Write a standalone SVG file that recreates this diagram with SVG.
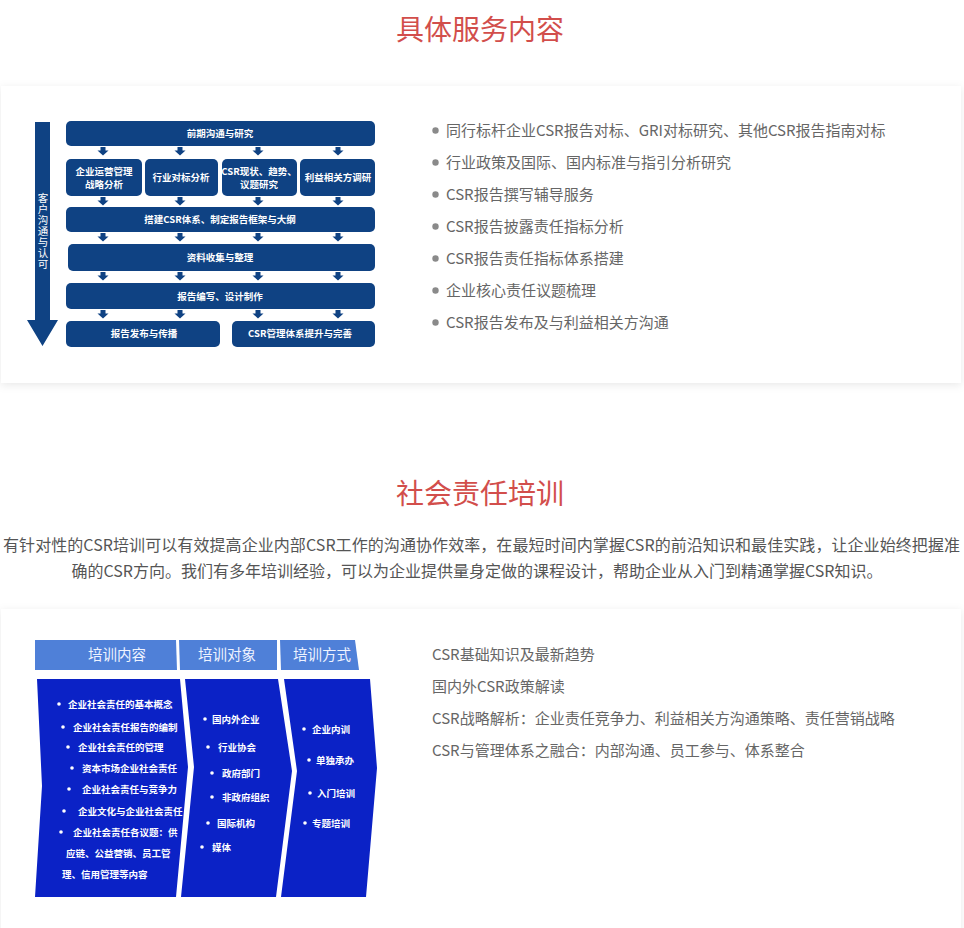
<svg xmlns="http://www.w3.org/2000/svg" width="964" height="928" viewBox="0 0 964 928">
<style>
.title{font-family:"Noto Sans CJK SC","Liberation Sans",sans-serif;font-size:28px;fill:#d24e4b;text-anchor:middle}
.para{font-family:"Noto Sans CJK SC","Liberation Sans",sans-serif;font-size:16px;fill:#555}
.li{font-family:"Noto Sans CJK SC","Liberation Sans",sans-serif;font-size:15px;fill:#666}
.dot{fill:#8a8a8a}
.nb{fill:#0f4283}
.nt{font-family:"Noto Sans CJK SC","Liberation Sans",sans-serif;font-size:9.5px;font-weight:bold;fill:#fff;text-anchor:middle}
.vt{font-family:"Noto Sans CJK SC","Liberation Sans",sans-serif;font-size:10.5px;fill:#fff;writing-mode:vertical-rl;letter-spacing:0.5px}
.hd{fill:#4f80d8}
.ht{font-family:"Noto Sans CJK SC","Liberation Sans",sans-serif;font-size:14.5px;fill:#eef3ff;text-anchor:middle}
.bd{fill:#0b22c6}
.bt{font-family:"Noto Sans CJK SC","Liberation Sans",sans-serif;font-size:9.5px;font-weight:bold;fill:#fff}
.wd{fill:#fff}
</style>
<defs>
<filter id="sh" x="-3%" y="-10%" width="106%" height="120%">
<feDropShadow dx="0" dy="2" stdDeviation="4" flood-color="#000" flood-opacity="0.09"/>
</filter>
<path id="sa" class="nb" d="M-2.5,0 h5 v3.5 h3 l-5.5,5 l-5.5,-5 h3 z"/>
</defs>
<rect width="964" height="928" fill="#fff"/>

<!-- Section 1 -->
<text class="title" x="480" y="40">具体服务内容</text>
<rect id="card1" x="1" y="86" width="960" height="297" fill="#fff" filter="url(#sh)"/>

<g id="connectors">
<polygon class="nb" points="35,122 50,122 50,320 58,320 42.5,346 27,320 35,320"/>
<use href="#sa" x="103" y="147"/><use href="#sa" x="180" y="147"/><use href="#sa" x="258" y="147"/><use href="#sa" x="338" y="147"/>
<use href="#sa" x="103" y="197"/><use href="#sa" x="180" y="197"/><use href="#sa" x="258" y="197"/><use href="#sa" x="338" y="197"/>
<use href="#sa" x="103" y="233"/><use href="#sa" x="180" y="233"/><use href="#sa" x="258" y="233"/><use href="#sa" x="338" y="233"/>
<use href="#sa" x="103" y="272"/><use href="#sa" x="180" y="272"/><use href="#sa" x="258" y="272"/><use href="#sa" x="338" y="272"/>
<use href="#sa" x="103" y="310"/><use href="#sa" x="180" y="310"/><use href="#sa" x="258" y="310"/><use href="#sa" x="338" y="310"/>
</g>
<g id="side-label">
<text class="vt" x="43" y="193">客户沟通与认可</text>
</g>
<g id="n-qianqi"><rect class="nb" x="66" y="121" width="309" height="25" rx="5"/><text class="nt" x="220" y="137">前期沟通与研究</text></g>
<g id="n-qiye"><rect class="nb" x="66" y="159" width="76" height="37" rx="5"/><text class="nt" x="104" y="175">企业运营管理</text><text class="nt" x="104" y="188">战略分析</text></g>
<g id="n-hangye"><rect class="nb" x="145" y="159" width="73" height="37" rx="5"/><text class="nt" x="181" y="181">行业对标分析</text></g>
<g id="n-xianzhuang"><rect class="nb" x="222" y="159" width="75" height="37" rx="5"/><text class="nt" x="259" y="175">CSR现状、趋势、</text><text class="nt" x="259" y="188">议题研究</text></g>
<g id="n-liyi"><rect class="nb" x="300" y="159" width="75" height="37" rx="5"/><text class="nt" x="338" y="181">利益相关方调研</text></g>
<g id="n-dajian"><rect class="nb" x="66" y="207" width="309" height="25" rx="5"/><text class="nt" x="220" y="223">搭建CSR体系、制定报告框架与大纲</text></g>
<g id="n-ziliao"><rect class="nb" x="68" y="244" width="307" height="27" rx="5"/><text class="nt" x="220" y="261">资料收集与整理</text></g>
<g id="n-bianxie"><rect class="nb" x="66" y="283" width="309" height="26" rx="5"/><text class="nt" x="220" y="300">报告编写、设计制作</text></g>
<g id="n-fabu"><rect class="nb" x="66" y="321" width="154" height="26" rx="5"/><text class="nt" x="144" y="337">报告发布与传播</text></g>
<g id="n-tisheng"><rect class="nb" x="232" y="321" width="143" height="26" rx="5"/><text class="nt" x="300" y="337">CSR管理体系提升与完善</text></g>

<g id="list1">
<circle class="dot" cx="435.5" cy="130.5" r="3.2"/><text class="li" x="446" y="136">同行标杆企业CSR报告对标、GRI对标研究、其他CSR报告指南对标</text>
<circle class="dot" cx="435.5" cy="162.5" r="3.2"/><text class="li" x="446" y="168">行业政策及国际、国内标准与指引分析研究</text>
<circle class="dot" cx="435.5" cy="194.5" r="3.2"/><text class="li" x="446" y="200">CSR报告撰写辅导服务</text>
<circle class="dot" cx="435.5" cy="226.5" r="3.2"/><text class="li" x="446" y="232">CSR报告披露责任指标分析</text>
<circle class="dot" cx="435.5" cy="258.5" r="3.2"/><text class="li" x="446" y="264">CSR报告责任指标体系搭建</text>
<circle class="dot" cx="435.5" cy="290.5" r="3.2"/><text class="li" x="446" y="296">企业核心责任议题梳理</text>
<circle class="dot" cx="435.5" cy="322.5" r="3.2"/><text class="li" x="446" y="328">CSR报告发布及与利益相关方沟通</text>
</g>

<!-- Section 2 -->
<text class="title" x="480" y="504">社会责任培训</text>
<text class="para" x="3" y="551" textLength="957">有针对性的CSR培训可以有效提高企业内部CSR工作的沟通协作效率，在最短时间内掌握CSR的前沿知识和最佳实践，让企业始终把握准</text>
<text class="para" x="477" y="577" text-anchor="middle">确的CSR方向。我们有多年培训经验，可以为企业提供量身定做的课程设计，帮助企业从入门到精通掌握CSR知识。</text>

<rect id="card2" x="1" y="609" width="960" height="340" fill="#fff" filter="url(#sh)"/>

<g id="h-neirong"><polygon class="hd" points="35,640 176,640 177,670 35,670"/><text class="ht" x="117" y="660">培训内容</text></g>
<g id="h-duixiang"><polygon class="hd" points="179,640 277,640 277,670 180,670"/><text class="ht" x="227" y="660">培训对象</text></g>
<g id="h-fangshi"><polygon class="hd" points="280,640 355,640 359,670 281,670"/><text class="ht" x="322" y="660">培训方式</text></g>

<g id="b-neirong">
<polygon class="bd" points="37,679 180,679 188,767 176,897 35,897 42,786"/>
<circle class="wd" cx="59" cy="704" r="1.8"/><text class="bt" x="68" y="707.5">企业社会责任的基本概念</text>
<circle class="wd" cx="63" cy="727" r="1.8"/><text class="bt" x="73" y="730.5">企业社会责任报告的编制</text>
<circle class="wd" cx="68" cy="747" r="1.8"/><text class="bt" x="78" y="750.5">企业社会责任的管理</text>
<circle class="wd" cx="72" cy="768" r="1.8"/><text class="bt" x="82" y="771.5">资本市场企业社会责任</text>
<circle class="wd" cx="69" cy="789" r="1.8"/><text class="bt" x="82" y="792.5">企业社会责任与竞争力</text>
<circle class="wd" cx="64" cy="811" r="1.8"/><text class="bt" x="78" y="814.5">企业文化与企业社会责任</text>
<circle class="wd" cx="61" cy="832" r="1.8"/><text class="bt" x="73" y="835.5">企业社会责任各议题：供</text>
<text class="bt" x="66" y="856.5">应链、公益营销、员工管</text>
<text class="bt" x="62" y="877.5">理、信用管理等内容</text>
</g>
<g id="b-duixiang">
<polygon class="bd" points="185,679 278,679 292,771 276,897 181,897 194,767"/>
<circle class="wd" cx="205" cy="719" r="1.8"/><text class="bt" x="212" y="722.5">国内外企业</text>
<circle class="wd" cx="208" cy="747" r="1.8"/><text class="bt" x="218" y="750.5">行业协会</text>
<circle class="wd" cx="212" cy="773" r="1.8"/><text class="bt" x="222" y="776.5">政府部门</text>
<circle class="wd" cx="212" cy="797" r="1.8"/><text class="bt" x="222" y="800.5">非政府组织</text>
<circle class="wd" cx="208" cy="823" r="1.8"/><text class="bt" x="217" y="826.5">国际机构</text>
<circle class="wd" cx="202" cy="847" r="1.8"/><text class="bt" x="212" y="850.5">媒体</text>
</g>
<g id="b-fangshi">
<polygon class="bd" points="284,679 370,679 377,768 366,897 281,897 297,771"/>
<circle class="wd" cx="304" cy="729" r="1.8"/><text class="bt" x="312" y="732.5">企业内训</text>
<circle class="wd" cx="309" cy="760" r="1.8"/><text class="bt" x="316" y="763.5">单独承办</text>
<circle class="wd" cx="310" cy="793" r="1.8"/><text class="bt" x="317" y="796.5">入门培训</text>
<circle class="wd" cx="305" cy="823" r="1.8"/><text class="bt" x="312" y="826.5">专题培训</text>
</g>

<g id="list2">
<text class="li" x="432" y="660">CSR基础知识及最新趋势</text>
<text class="li" x="432" y="692">国内外CSR政策解读</text>
<text class="li" x="432" y="724">CSR战略解析：企业责任竞争力、利益相关方沟通策略、责任营销战略</text>
<text class="li" x="432" y="756">CSR与管理体系之融合：内部沟通、员工参与、体系整合</text>
</g>
</svg>
